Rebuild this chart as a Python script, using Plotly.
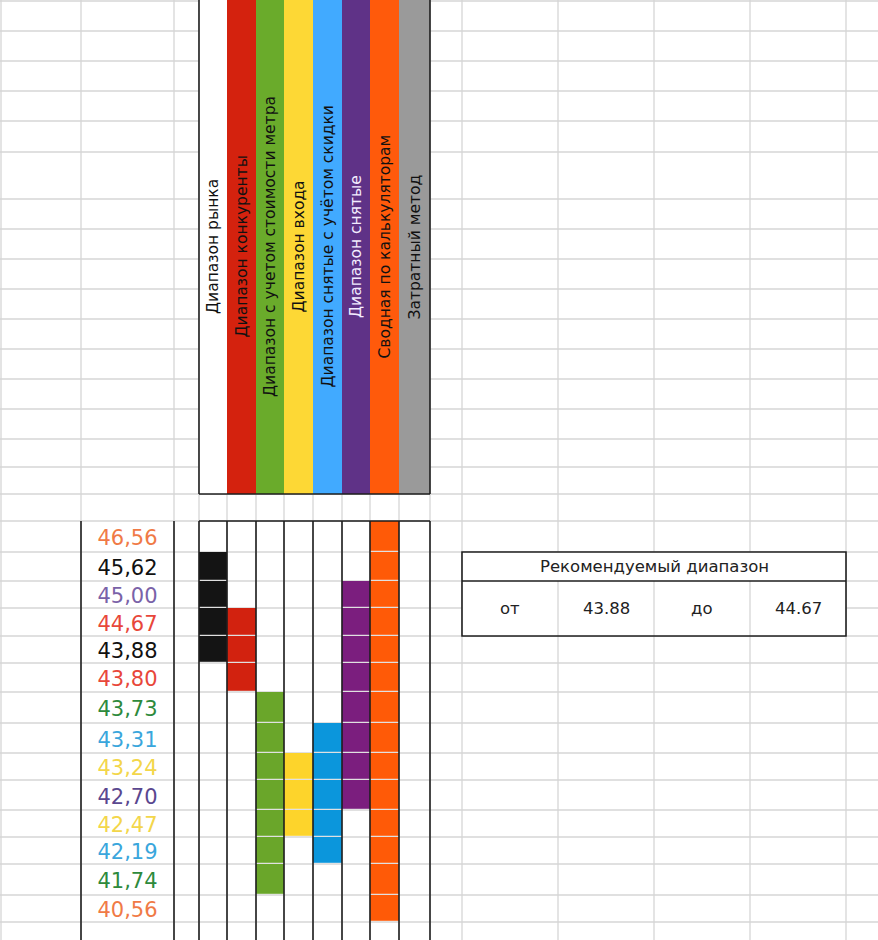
import plotly.graph_objects as go

# ---------------- data ----------------
values = [46.56, 45.62, 45.00, 44.67, 43.88, 43.80, 43.73, 43.31, 43.24, 42.70, 42.47, 42.19, 41.74, 40.56]
value_colors = ["#f07a46", "#111111", "#7a62a8", "#e8473a", "#111111", "#e8473a", "#2e8a3c",
                "#3aa6dc", "#f3d64a", "#5a478f", "#f3d64a", "#3aa6dc", "#2e8a3c", "#f07a46"]

methods = ["Диапазон рынка", "Диапазон конкуренты", "Диапазон с учетом стоимости метра",
           "Диапазон входа", "Диапазон снятые с учётом скидки", "Диапазон снятые",
           "Сводная по калькуляторам", "Затратный метод"]
range_high = [45.62, 44.67, 43.73, 43.24, 43.31, 45.00, 46.56, None]
range_low = [43.88, 43.80, 41.74, 42.47, 42.19, 42.70, 40.56, None]

header_colors = ["#ffffff", "#d4220e", "#6aab2b", "#fdd835", "#41aaff", "#5f3287", "#ff5a0b", "#9a9a9a"]
header_text_colors = ["#111111", "#111111", "#111111", "#111111", "#111111", "#f3ecff", "#111111", "#111111"]
cell_colors = ["#141414", "#d2220f", "#6aa62a", "#fdd42b", "#0b96dc", "#7b1e7e", "#ff5a07", "#9a9a9a"]

rec_title = "Рекомендуемый диапазон"
rec_from_label = "от"
rec_to_label = "до"
rec_from = 43.88
rec_to = 44.67

# ---------------- layout geometry (pixels) ----------------
W, H = 878, 940
grid_x = [1, 81, 174, 199, 227, 256, 284, 313, 342, 370, 399, 430, 462, 558, 654, 750, 846]
grid_y = [1, 31, 61, 91, 121, 152, 199, 229, 259, 289, 319, 349, 379, 409, 439, 467, 494,
          521, 552, 581, 608, 636, 663, 692, 723, 753, 780, 810, 837, 864, 895, 922]
method_x = grid_x[3:12]          # edges of the 8 method columns
value_x = (81, 174)
header_y = (0, 494)
table_y = grid_y[17:]            # 15 edges for 14 value rows
box_x = grid_x[12:17]
box_y = (552, 581, 636)
TEXT_DY = 3.5                    # visual baseline nudge for value labels

GRAY = "#d6d6d6"
BLACK = "#1e1e1e"
FONT = "DejaVu Sans"

shapes = []

def line(x0, y0, x1, y1, color, width, layer="below"):
    shapes.append(dict(type="line", xref="x", yref="y", x0=x0, y0=y0, x1=x1, y1=y1,
                       line=dict(color=color, width=width), layer=layer))

def rect(x0, y0, x1, y1, fill, layer="below"):
    shapes.append(dict(type="rect", xref="x", yref="y", x0=x0, y0=y0, x1=x1, y1=y1,
                       fillcolor=fill, line=dict(width=0), layer=layer))

# background spreadsheet grid
for gy in grid_y:
    line(0, gy, W, gy, GRAY, 1.3)
for gx in grid_x:
    line(gx, 0, gx, H, GRAY, 1.3)

# header cells
for i, c in enumerate(header_colors):
    rect(method_x[i], header_y[0], method_x[i + 1], header_y[1], c)

# recommendation box background
rect(box_x[0], box_y[0], box_x[-1], box_y[2], "#ffffff")
for gx in box_x[1:-1]:
    line(gx, box_y[1], gx, box_y[2], GRAY, 1.3)

# ---------------- heatmap of ranges ----------------
z = []
for v in values:
    row = []
    for j in range(len(methods)):
        hi, lo = range_high[j], range_low[j]
        row.append(j if (hi is not None and lo <= v <= hi) else None)
    z.append(row)

n = len(methods)
colorscale = []
for j, c in enumerate(cell_colors):
    colorscale.append([j / n, c])
    colorscale.append([(j + 1) / n, c])

fig = go.Figure()
fig.add_trace(go.Heatmap(z=z, x=method_x, y=table_y, colorscale=colorscale,
                         zmin=-0.5, zmax=n - 0.5, showscale=False, ygap=1.2,
                         hoverinfo="skip"))

row_centers = [(table_y[i] + table_y[i + 1]) / 2 + TEXT_DY for i in range(len(values))]
fig.add_trace(go.Scatter(
    x=[(value_x[0] + value_x[1]) / 2] * len(values), y=row_centers, mode="text",
    text=[f"{v:.2f}".replace(".", ",") for v in values],
    textfont=dict(family=FONT, size=21, color=value_colors),
    textposition="middle center", hoverinfo="skip", showlegend=False))

# black borders
for gx in (method_x[0], method_x[-1]):
    line(gx, header_y[0], gx, header_y[1], BLACK, 1.6, "above")
line(method_x[0], header_y[1], method_x[-1], header_y[1], BLACK, 1.6, "above")
line(method_x[0], table_y[0], method_x[-1], table_y[0], BLACK, 1.6, "above")
for gx in method_x:
    line(gx, table_y[0], gx, H, BLACK, 1.6, "above")
for gx in value_x:
    line(gx, table_y[0], gx, H, BLACK, 1.6, "above")
shapes.append(dict(type="rect", xref="x", yref="y", x0=box_x[0], y0=box_y[0], x1=box_x[-1], y1=box_y[2],
                   line=dict(color=BLACK, width=1.6), layer="above"))
line(box_x[0], box_y[1], box_x[-1], box_y[1], BLACK, 1.6, "above")

# annotations
annotations = []
for i, m in enumerate(methods):
    annotations.append(dict(x=(method_x[i] + method_x[i + 1]) / 2, y=(header_y[0] + header_y[1]) / 2,
                            xref="x", yref="y", text=m, textangle=-90, showarrow=False,
                            xanchor="center", yanchor="middle",
                            font=dict(family=FONT, size=15.5, color=header_text_colors[i])))
annotations.append(dict(x=(box_x[0] + box_x[-1]) / 2, y=(box_y[0] + box_y[1]) / 2, xref="x", yref="y",
                        text=rec_title, showarrow=False, font=dict(family=FONT, size=16.5, color="#222")))
row2 = [rec_from_label, f"{rec_from:.2f}", rec_to_label, f"{rec_to:.2f}"]
for i, t in enumerate(row2):
    annotations.append(dict(x=(box_x[i] + box_x[i + 1]) / 2, y=(box_y[1] + box_y[2]) / 2, xref="x", yref="y",
                            text=t, showarrow=False, font=dict(family=FONT, size=16.5, color="#222")))

fig.update_layout(
    width=W, height=H, margin=dict(l=0, r=0, t=0, b=0),
    paper_bgcolor="#ffffff", plot_bgcolor="#ffffff",
    xaxis=dict(range=[0, W], visible=False, fixedrange=True),
    yaxis=dict(range=[H, 0], visible=False, fixedrange=True),
    shapes=shapes, annotations=annotations, showlegend=False,
)

fig.write_html("out.html", config={"displayModeBar": False},
               post_script="document.body.style.margin='0px';document.body.style.overflow='hidden';")
